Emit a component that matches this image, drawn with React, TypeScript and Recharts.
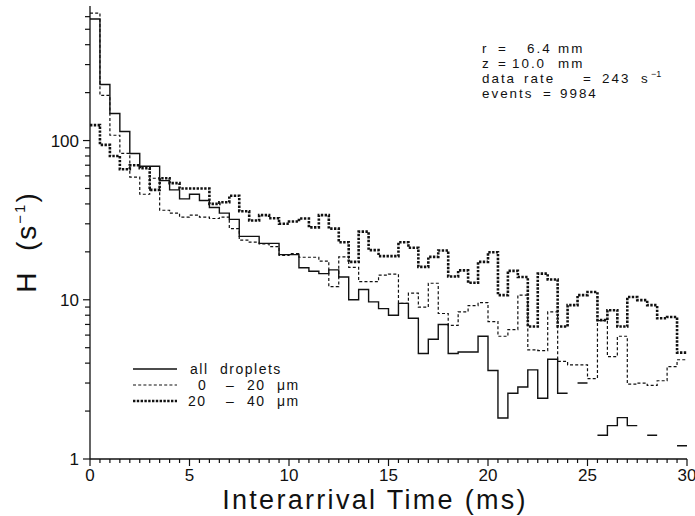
import React from 'react';
import { LineChart, Line, XAxis, YAxis, Legend } from 'recharts';

// histogram bins, 0.5 ms wide, starting at 0 ms; null = empty bin
const BIN_MS = 0.5;

const allDroplets: (number | null)[] = [
  580, 225, 148, 114, 83, 69, 69, 56, 49, 43,
  46, 42, 38, 35, 32, 25, 25, 22.6, 22.6, 19.2,
  19.2, 15.9, 15.1, 14.6, 15.4, 13.9, 10, 11.6, 9.7, 8.8,
  8.0, 9.5, 7.65, 4.6, 5.65, 7.0, 4.6, 4.7, 4.7, 5.9,
  3.6, 1.81, 2.59, 2.83, 3.63, 2.41, 4.23, 2.59, null, 3.0,
  null, 1.41, 1.62, 1.82, 1.62, null, 1.41, null, null, 1.21,
];

const small0to20: (number | null)[] = [
  632, 192, 108, 83, 59, 46, 58, 36.5, 35, 33,
  34, 33, 32.4, 33, 28, 23.7, 23, 22.4, 21.6, 19,
  19.5, 18.5, 18.5, 17.5, 12.1, 18.6, 16, 13, 13, 14.3,
  14.5, 9.5, 11, 9.0, 12.7, 8.2, 6.9, 8.4, 9.2, 9.6,
  7.3, 5.9, 6.5, 10.7, 4.85, 4.8, 8.4, 4.1, 3.9, 3.9,
  3.2, 7.4, 4.4, 5.9, 2.95, 3.0, 2.9, 3.1, 3.8, 4.2,
];

const large20to40: (number | null)[] = [
  125, 94, 80, 66, 70, 67, 49, 58, 54, 50,
  50, 50, 40, 41, 45, 36, 31.5, 34, 32.5, 30,
  31, 32.4, 28.5, 34, 28, 23, 17.3, 26.8, 20.5, 18.8,
  18.8, 23, 21.2, 16.1, 18.6, 20.4, 14, 15.3, 12.8, 17.3,
  19.9, 10.7, 15.2, 13.9, 6.8, 14.6, 13.4, 6.8, 9.25, 10.7,
  11.2, 7.45, 8.6, 6.8, 10.4, 9.95, 9.25, 7.65, 7.8, 4.66,
];

const xMajorTicks = [0, 5, 10, 15, 20, 25, 30];
const yMajorTicks = [1, 10, 100];
const xTicks = Array.from({ length: 61 }, (_, i) => i * 0.5);
const yTicks = [1, 2, 3, 4, 5, 6, 7, 8, 9, 10, 20, 30, 40, 50, 60, 70, 80, 90, 100, 200, 300, 400, 500, 600];

// run parameters shown top right: [text, x] per word, one row per line
const annotationRows: [string, number][][] = [
  [['r', 482], ['=', 498], ['6.4', 527], ['mm', 558]],
  [['z', 482], ['=', 498], ['10.0', 512], ['mm', 558]],
  [['data', 482], ['rate', 524], ['=', 583], ['243', 602], ['s', 641]],
  [['events', 482], ['=', 543], ['9984', 560]],
];

const FONT = '"Liberation Sans", Arial, sans-serif';
const INK = '#111';

// turn bins into points for a stepAfter line, breaking at empty bins
function toSteps(values: (number | null)[]) {
  const pts: { t: number; h: number | null }[] = [];
  values.forEach((v, i) => {
    if (v == null) return;
    pts.push({ t: i * BIN_MS, h: v });
    const next = values[i + 1];
    if (next == null) {
      pts.push({ t: (i + 1) * BIN_MS, h: v });
      if (i + 1 < values.length) pts.push({ t: (i + 1) * BIN_MS + 0.01, h: null });
    }
  });
  return pts;
}

const BottomTick = (props: any) => {
  const { x, y, payload } = props;
  const major = xMajorTicks.includes(payload.value);
  return (
    <g>
      <line x1={x} x2={x} y1={y} y2={y + (major ? 7 : 4)} stroke={INK} strokeWidth={1.2} />
      {major && (
        <text x={x} y={y + 22} textAnchor="middle" fontFamily={FONT} fontSize={17} fill={INK}>
          {payload.value}
        </text>
      )}
    </g>
  );
};

const TopTick = (props: any) => {
  const { x, y, payload } = props;
  const major = xMajorTicks.includes(payload.value);
  return <line x1={x} x2={x} y1={y} y2={y + (major ? 5 : 3)} stroke={INK} strokeWidth={1} />;
};

const LeftTick = (props: any) => {
  const { x, y, payload } = props;
  const major = yMajorTicks.includes(payload.value);
  return (
    <g>
      <line x1={x - (major ? 7 : 5)} x2={x} y1={y} y2={y} stroke={INK} strokeWidth={1.2} />
      {major && (
        <text x={x - 11} y={y + 6} textAnchor="end" fontFamily={FONT} fontSize={17} fill={INK}>
          {payload.value}
        </text>
      )}
    </g>
  );
};

const RightTick = (props: any) => {
  const { x, y, payload } = props;
  const major = yMajorTicks.includes(payload.value);
  return <line x1={x - (major ? 5 : 3)} x2={x} y1={y} y2={y} stroke={INK} strokeWidth={1} />;
};

const legendRows: { dash?: string; width: number; y: number; parts: [string, number][] }[] = [
  { dash: undefined, width: 1.4, y: 369, parts: [['all', 190], ['droplets', 220]] },
  { dash: '3 2.2', width: 1.2, y: 385, parts: [['0', 198], ['–', 226], ['20', 247], ['μm', 277]] },
  { dash: '2.4 1.4', width: 2.6, y: 401, parts: [['20', 188], ['–', 226], ['40', 247], ['μm', 277]] },
];

const LegendBox = () => (
  <svg width={200} height={60} style={{ overflow: 'visible' }}>
    <g transform="translate(-120,-355)">
      {legendRows.map((r, i) => (
        <g key={i}>
          <line x1={133} x2={177} y1={r.y} y2={r.y} stroke={INK} strokeWidth={r.width} strokeDasharray={r.dash} />
          {r.parts.map(([txt, x], j) => (
            <text key={j} x={x} y={r.y + 5} fontFamily={FONT} fontSize={14} fill={INK} letterSpacing={1.5}>
              {txt}
            </text>
          ))}
        </g>
      ))}
    </g>
  </svg>
);

export default function App() {
  return (
    <div style={{ position: 'absolute', left: 0, top: 0, width: 695, height: 516, background: '#fff' }}>
      <LineChart width={695} height={516} margin={{ top: 6, right: 8, bottom: 27, left: 30 }}>
        <XAxis dataKey="t" type="number" domain={[0, 30]} ticks={xTicks} interval={0}
          tick={<BottomTick />} tickLine={false} tickSize={0} tickMargin={0} height={30}
          axisLine={{ stroke: INK, strokeWidth: 1.3 }} allowDataOverflow />
        <XAxis xAxisId="top" orientation="top" type="number" domain={[0, 30]} ticks={xTicks} interval={0}
          tick={<TopTick />} tickLine={false} tickSize={0} tickMargin={0} height={0}
          axisLine={{ stroke: INK, strokeWidth: 1.3 }} allowDataOverflow />
        <YAxis scale="log" type="number" domain={[1, 700]} ticks={yTicks} interval={0}
          tick={<LeftTick />} tickLine={false} tickSize={0} tickMargin={0} width={60}
          axisLine={{ stroke: INK, strokeWidth: 1.3 }} allowDataOverflow />
        <YAxis yAxisId="right" orientation="right" scale="log" type="number" domain={[1, 700]} ticks={yTicks} interval={0}
          tick={<RightTick />} tickLine={false} tickSize={0} tickMargin={0} width={0}
          axisLine={{ stroke: INK, strokeWidth: 1.3 }} allowDataOverflow />
        <Legend layout="horizontal" verticalAlign="middle" content={<LegendBox />}
          wrapperStyle={{ position: 'absolute', left: 120, top: 355, width: 200, height: 60 }} />
        <Line data={toSteps(small0to20)} dataKey="h" type="stepAfter" stroke={INK} strokeWidth={1.2}
          strokeDasharray="3 2.2" dot={false} isAnimationActive={false} />
        <Line data={toSteps(large20to40)} dataKey="h" type="stepAfter" stroke={INK} strokeWidth={2.6}
          strokeDasharray="2.4 1.4" dot={false} isAnimationActive={false} />
        <Line data={toSteps(allDroplets)} dataKey="h" type="stepAfter" stroke={INK} strokeWidth={1.4}
          dot={false} isAnimationActive={false} />
      </LineChart>
      <svg width={695} height={516} style={{ position: 'absolute', left: 0, top: 0, pointerEvents: 'none' }}>
        <g fontFamily={FONT} fontSize={13.4} fill={INK} letterSpacing={2}>
          {annotationRows.map((row, i) =>
            row.map(([txt, x], j) => (
              <text key={`${i}-${j}`} x={x} y={53 + i * 15}>{txt}</text>
            ))
          )}
          <text x={651} y={77} fontSize={9} letterSpacing={0}>−1</text>
        </g>
        <text x={375} y={509} textAnchor="middle" fontFamily={FONT} fontSize={27} letterSpacing={2.3} fill={INK}>
          Interarrival Time (ms)
        </text>
        <text transform="translate(36,242) rotate(-90)" textAnchor="middle" fontFamily={FONT} fontSize={28}
          letterSpacing={2} fill={INK} style={{ whiteSpace: 'pre' }}>
          H  (s<tspan dy={-11} fontSize={15}>−1</tspan><tspan dy={11}>)</tspan>
        </text>
      </svg>
    </div>
  );
}
